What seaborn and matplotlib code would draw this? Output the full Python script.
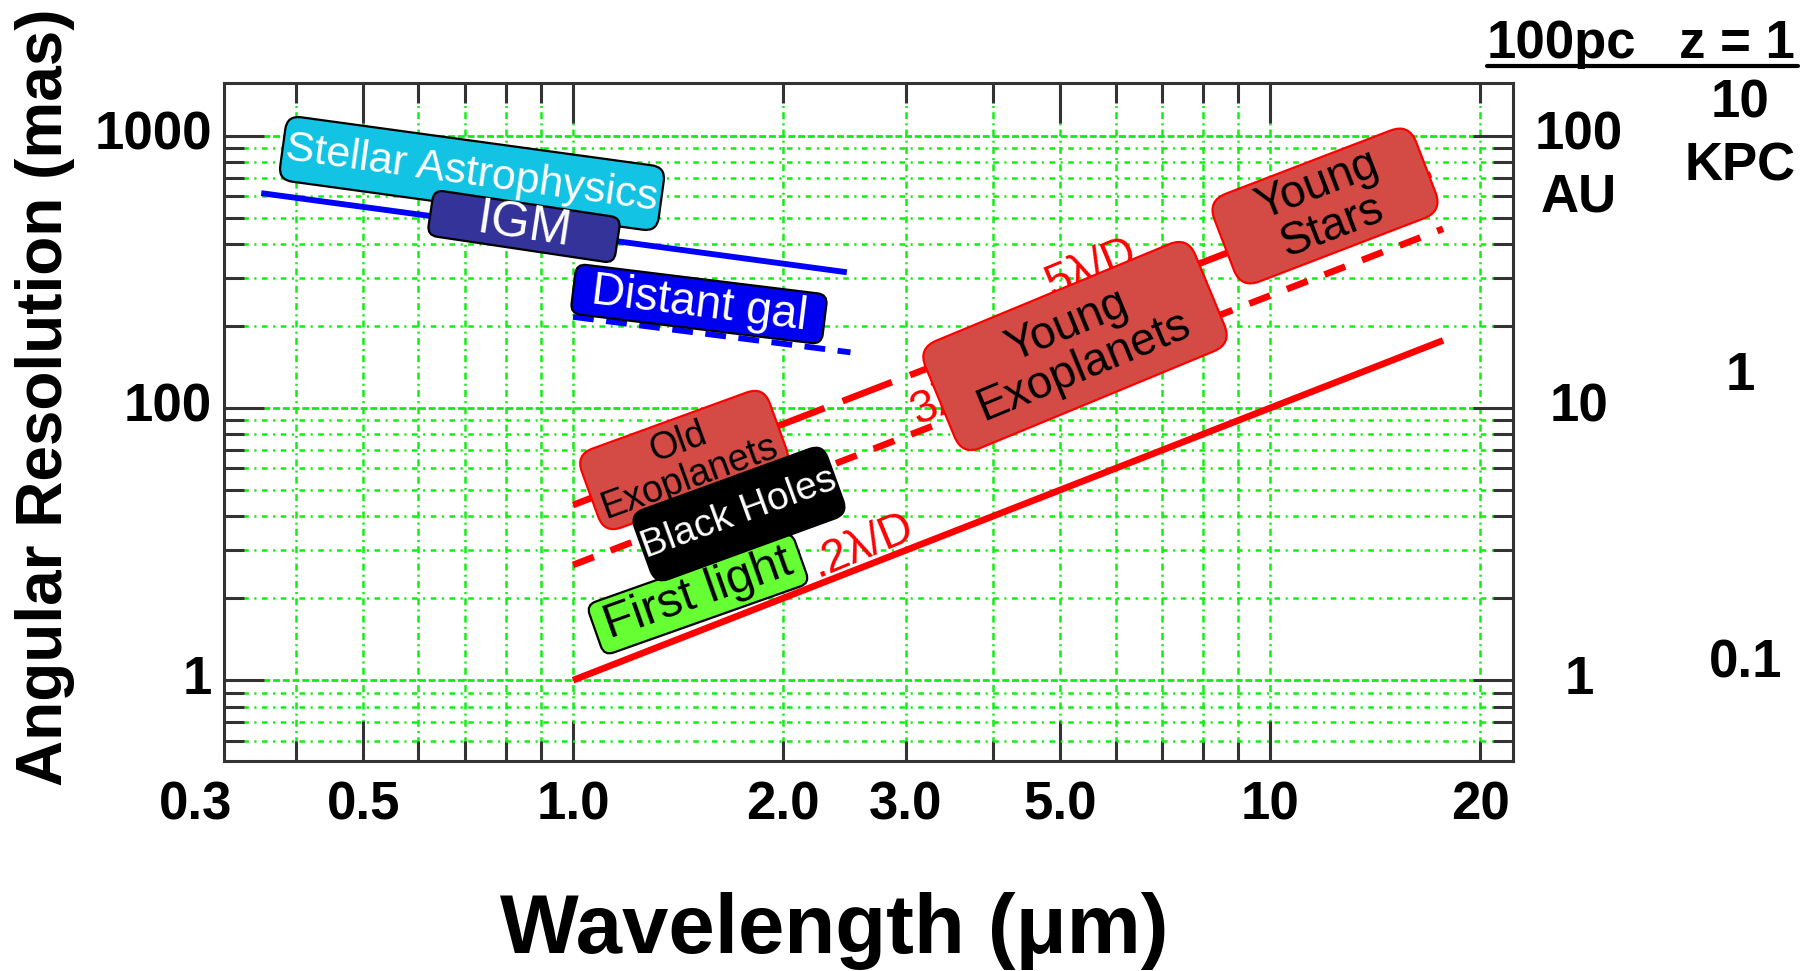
import matplotlib
matplotlib.use("Agg")
import matplotlib.pyplot as plt
import seaborn as sns
import pandas as pd
from matplotlib.patches import FancyBboxPatch
from matplotlib.transforms import Affine2D, blended_transform_factory, offset_copy
from matplotlib.lines import Line2D
from matplotlib.ticker import FixedLocator, NullFormatter
from matplotlib import font_manager

# ---------------- data ----------------
wavelength_blue_upper = [0.357, 2.47]
resolution_blue_upper = [615.0, 315.0]
wavelength_blue_lower = [1.0, 2.5]
resolution_blue_lower = [216.0, 160.0]
wavelength_diffraction = [1.0, 17.7]
resolution_2ld = [10.0, 177.0]
resolution_3ld = [26.5, 455.0]
resolution_5ld = [44.0, 750.0]

xtick_values = [0.3, 0.5, 1.0, 2.0, 3.0, 5.0, 10, 20]
xtick_labels = ["0.3", "0.5", "1.0", "2.0", "3.0", "5.0", "10", "20"]
ytick_values = [1000, 100, 10]
ytick_labels = ["1000", "100", "1"]
au_labels = ["100", "10", "1"]
kpc_labels = ["10", "1", "0.1"]

# ---------------- style ----------------
sns.set_theme(style="white")
plt.rcParams["lines.scale_dashes"] = False
plt.rcParams["text.color"] = "black"
names = {f.name for f in font_manager.fontManager.ttflist}
REG = "Liberation Sans" if "Liberation Sans" in names else "DejaVu Sans"
if "Liberation Sans Narrow" in names:
    NARROW, NUM_FS = "Liberation Sans Narrow", 43
else:
    NARROW, NUM_FS = REG, 38
plt.rcParams["font.family"] = [REG, "DejaVu Sans"]

W, H = 1801, 971
fig = plt.figure(figsize=(W / 100, H / 100), dpi=100)
fig.patch.set_facecolor("white")
ax_l, ax_r, ax_t, ax_b = 224, 1513, 82.7, 761
ax = fig.add_axes([ax_l / W, 1 - ax_b / H, (ax_r - ax_l) / W, (ax_b - ax_t) / H])
ax.set_facecolor("white")
ax.set_xscale("log")
ax.set_yscale("log")

GREEN = "#11EE11"
ax.xaxis.set_major_locator(FixedLocator([0.5, 1, 5, 10]))
ax.xaxis.set_minor_locator(FixedLocator([0.4, 0.6, 0.7, 0.8, 0.9, 2, 3, 4, 6, 7, 8, 9, 20]))
ax.yaxis.set_major_locator(FixedLocator([10, 100, 1000]))
ax.yaxis.set_minor_locator(FixedLocator([6, 7, 8, 9, 20, 30, 40, 50, 60, 70, 80, 90,
                                         200, 300, 400, 500, 600, 700, 800, 900]))
for a in (ax.xaxis, ax.yaxis):
    a.set_minor_formatter(NullFormatter())
ax.tick_params(which="major", direction="in", length=29, width=2.2, color="#333333",
               top=True, right=True, bottom=True, left=True,
               labelbottom=False, labelleft=False)
ax.tick_params(which="minor", direction="in", length=14.5, width=2.2, color="#333333",
               top=True, right=True, bottom=True, left=True)
ax.xaxis.grid(True, which="both", color=GREEN, linestyle=(0, (5, 3, 1.5, 3)), linewidth=1.8)
ax.yaxis.grid(True, which="major", color=GREEN, linestyle=(0, (5, 2)), linewidth=2.0)
ax.yaxis.grid(True, which="minor", color=GREEN, linestyle=(0, (4, 4, 1.5, 4)), linewidth=1.8)
ax.set_axisbelow(True)
for s in ax.spines.values():
    s.set_color("#333333")
    s.set_linewidth(2.2)
    s.set_visible(True)

# ---------------- lines ----------------
df_bu = pd.DataFrame({"wl": wavelength_blue_upper, "res": resolution_blue_upper})
df_bl = pd.DataFrame({"wl": wavelength_blue_lower, "res": resolution_blue_lower})
df_d = pd.DataFrame({"wl": wavelength_diffraction, "r2": resolution_2ld,
                     "r3": resolution_3ld, "r5": resolution_5ld})

sns.lineplot(data=df_bu, x="wl", y="res", ax=ax, color="#0000FF", linewidth=4.2,
             estimator=None, sort=False)
sns.lineplot(data=df_bl, x="wl", y="res", ax=ax, color="#0000FF", linewidth=4.2,
             estimator=None, sort=False)
ax.lines[-1].set_linestyle((0, (15, 9)))
sns.lineplot(data=df_d, x="wl", y="r2", ax=ax, color="#FF0000", linewidth=4.8,
             estimator=None, sort=False)
sns.lineplot(data=df_d, x="wl", y="r3", ax=ax, color="#FF0000", linewidth=4.8,
             estimator=None, sort=False)
ax.lines[-1].set_linestyle((0, (16, 13)))
sns.lineplot(data=df_d, x="wl", y="r5", ax=ax, color="#FF0000", linewidth=4.8,
             estimator=None, sort=False)
ax.lines[-1].set_linestyle((0, (38, 14)))
for ln in ax.lines:
    ln.set_solid_capstyle("butt")
    ln.set_dash_capstyle("butt")
ax.set_xlabel("")
ax.set_ylabel("")
ax.set_xlim(0.3157, 22.3)
ax.set_ylim(5.05, 1565)


def fx(x):
    return x / W


def fy(y):
    return 1 - y / H


# ---------------- tick labels ----------------
bx = blended_transform_factory(ax.transData, fig.transFigure)
for v, lab in zip(xtick_values, xtick_labels):
    nudge = -13 if lab == "0.3" else 0
    tr = offset_copy(bx, fig=fig, x=nudge, y=0, units="dots")
    ax.text(v, fy(806), lab, transform=tr, ha="center", va="center", fontsize=NUM_FS,
            fontweight="bold", family=NARROW, clip_on=False)
by = blended_transform_factory(fig.transFigure, ax.transData)
for v, lab in zip(ytick_values, ytick_labels):
    ax.text(fx(212), v, lab, transform=by, ha="right", va="center", fontsize=NUM_FS,
            fontweight="bold", family=NARROW, clip_on=False)
for v, lab in zip(ytick_values, au_labels):
    ax.text(fx(1579), v, lab, transform=by, ha="center", va="center", fontsize=NUM_FS,
            fontweight="bold", family=NARROW, clip_on=False)
fig.text(fx(1579), fy(198), "AU", ha="center", va="center", fontsize=38, fontweight="bold")
kpc_pos = [(1740, 104), (1740, 376), (1746, 664)]
for (px, py), lab in zip(kpc_pos, kpc_labels):
    fig.text(fx(px), fy(py), lab, ha="center", va="center", fontsize=NUM_FS,
             fontweight="bold", family=NARROW)
fig.text(fx(1740), fy(166), "KPC", ha="center", va="center", fontsize=38, fontweight="bold")

# header
fig.text(fx(1561), fy(58), "100pc", ha="center", va="baseline", fontsize=NUM_FS,
         fontweight="bold", family=NARROW)
fig.text(fx(1737), fy(58), "z = 1", ha="center", va="baseline", fontsize=NUM_FS,
         fontweight="bold", family=NARROW)
fig.add_artist(Line2D([fx(1487), fx(1798)], [fy(66.5), fy(66.5)], color="black",
                      linewidth=3.0, transform=fig.transFigure))

# axis titles
fig.text(fx(834), fy(953), "Wavelength (\u03bcm)", ha="center", va="baseline",
         fontsize=60, fontweight="bold")
fig.text(fx(45), fy(397), "Angular Resolution (mas)", ha="center", va="center",
         rotation=90, fontsize=46, fontweight="bold")

# red diffraction labels (under the boxes)
for (px, py), lab in zip([(818, 577), (917, 425), (1052, 298)], [".2\u03bb/D", "3\u03bb/D", "5\u03bb/D"]):
    fig.text(fx(px), fy(py), lab, ha="left", va="baseline", rotation=22.5,
             rotation_mode="anchor", color="#FF0000", fontsize=33, zorder=1)


# ---------------- rotated rounded label boxes ----------------
def rbox(cx, cy, w, h, ang, fc, ec, r, z, text, tcolor, fs, lw=1.6):
    X, Y = cx, H - cy
    p = FancyBboxPatch((X - w / 2, Y - h / 2), w, h,
                       boxstyle=f"round,pad=0,rounding_size={r}",
                       fc=fc, ec=ec, lw=lw, zorder=z)
    p.set_transform(Affine2D().rotate_deg_around(X, Y, ang))
    fig.add_artist(p)
    fig.text(X / W, Y / H, text, ha="center", va="center",
             rotation=ang, rotation_mode="anchor", color=tcolor, fontsize=fs,
             multialignment="center", linespacing=1.0, zorder=z + 0.5)


rbox(472, 173.5, 382, 65, -7.8, "#13C3E3", "black", 14, 3, "Stellar Astrophysics", "white", 31)
rbox(699, 304, 253, 50, -7.0, "#0000F0", "black", 10, 4, "Distant gal", "white", 33)
rbox(524, 226.5, 189, 46, -8.5, "#333399", "black", 10, 5, "IGM", "white", 36)
rbox(684, 460, 200, 84, 20, "#D44B45", "#FF0000", 18, 3, "Old\nExoplanets", "black", 27)
rbox(698, 594, 218, 54, 19.5, "#66FF33", "black", 10, 4, "First light", "black", 35)
rbox(739, 514, 205, 74, 20, "black", "black", 14, 5, "Black Holes", "white", 28)
rbox(1075, 346, 292, 116, 22.5, "#D44B45", "#FF0000", 20, 3, "Young\nExoplanets", "black", 33)
rbox(1325, 206, 216, 94, 21, "#D44B45", "#FF0000", 20, 3, "Young\nStars", "black", 33)

fig.savefig("out.png", dpi=100, facecolor="white")
